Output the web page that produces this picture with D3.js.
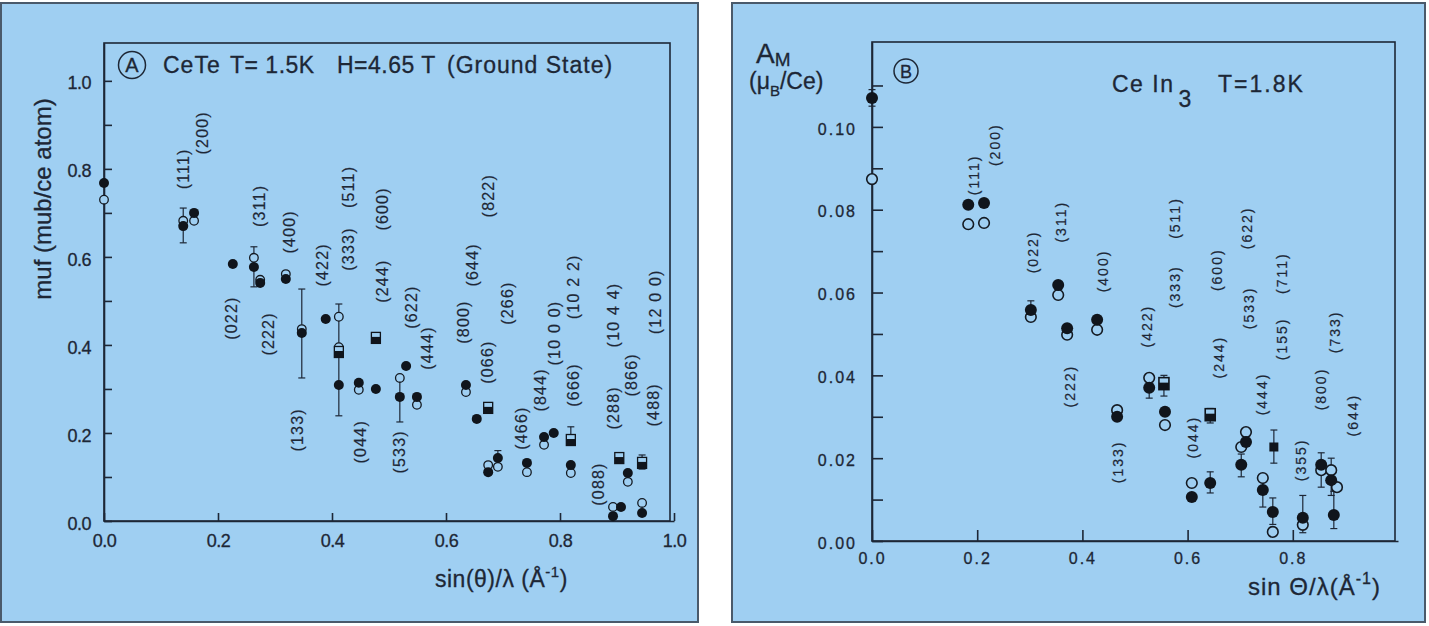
<!DOCTYPE html>
<html><head><meta charset="utf-8">
<script src="https://cdn.jsdelivr.net/npm/d3@7"></script>
<style>body{margin:0;background:#fff;} svg{display:block;font-family:"Liberation Sans",Arial,Helvetica,sans-serif;}</style>
</head><body><svg id="c" width="1429" height="626"></svg>
<script>
// ---------- Panel A : CeTe ----------
const aXTicks = [0, 0.2, 0.4, 0.6, 0.8, 1.0];
const aXTickLabels = ["0.0", "0.2", "0.4", "0.6", "0.8", "1.0"];
const aYTicks = [0, 0.2, 0.4, 0.6, 0.8, 1.0];
const aYTickLabels = ["0.0", "0.2", "0.4", "0.6", "0.8", "1.0"];
const aYMinor = [0.1, 0.3, 0.5, 0.7, 0.9];
const aFilled = [[0.000,0.768],[0.139,0.670],[0.158,0.700],[0.226,0.584],[0.263,0.577],[0.274,0.541],[0.319,0.550],[0.347,0.427],[0.389,0.459],[0.412,0.309],[0.447,0.314],[0.477,0.300],[0.519,0.282],[0.530,0.352],[0.549,0.282],[0.635,0.309],[0.654,0.232],[0.674,0.111],[0.691,0.143],[0.742,0.132],[0.772,0.191],[0.789,0.200],[0.819,0.127],[0.893,0.011],[0.907,0.032],[0.919,0.109],[0.944,0.018]];
const aOpen = [[0.000,0.730],[0.139,0.682],[0.158,0.682],[0.263,0.598],[0.274,0.548],[0.319,0.561],[0.347,0.436],[0.412,0.464],[0.412,0.395],[0.447,0.298],[0.519,0.325],[0.549,0.264],[0.635,0.293],[0.674,0.127],[0.691,0.123],[0.742,0.111],[0.772,0.173],[0.819,0.109],[0.893,0.032],[0.919,0.089],[0.944,0.041]];
const aSquare = [[0.412,0.384],[0.477,0.416],[0.674,0.257],[0.819,0.184],[0.904,0.143],[0.944,0.132]];
const aErr = [[0.139,0.632,0.711],[0.263,0.532,0.623],[0.347,0.325,0.527],[0.412,0.239,0.493],[0.519,0.225,0.330],[0.691,0.143,0.160],[0.819,0.184,0.214],[0.944,0.118,0.150]];
const aLabels = [["(111)",0.139,0.800],["(200)",0.172,0.882],["(311)",0.272,0.716],["(400)",0.326,0.657],["(022)",0.223,0.461],["(222)",0.288,0.425],["(422)",0.384,0.582],["(333)",0.428,0.618],["(511)",0.428,0.759],["(600)",0.489,0.709],["(244)",0.489,0.545],["(622)",0.540,0.486],["(133)",0.339,0.207],["(044)",0.449,0.180],["(533)",0.519,0.157],["(444)",0.568,0.393],["(800)",0.630,0.452],["(644)",0.647,0.582],["(822)",0.674,0.739],["(066)",0.672,0.361],["(266)",0.707,0.495],["(466)",0.733,0.211],["(844)",0.765,0.298],["(10 0 0)",0.791,0.427],["(666)",0.823,0.309],["(10 2 2)",0.823,0.532],["(088)",0.867,0.084],["(288)",0.893,0.257],["(866)",0.926,0.332],["(10 4 4)",0.893,0.468],["(488)",0.963,0.264],["(12 0 0)",0.967,0.498]];

// ---------- Panel B : CeIn3 ----------
const bXTicks = [0, 0.2, 0.4, 0.6, 0.8];
const bXTickLabels = ["0.0", "0.2", "0.4", "0.6", "0.8"];
const bYTicks = [0, 0.02, 0.04, 0.06, 0.08, 0.10];
const bYTickLabels = ["0.00", "0.02", "0.04", "0.06", "0.08", "0.10"];
const bYMinor = [0.01, 0.03, 0.05, 0.07, 0.09, 0.11];
const bFilled = [[0,0.107],[0.183,0.0812],[0.213,0.0816],[0.302,0.0558],[0.354,0.0618],[0.371,0.0514],[0.428,0.0534],[0.466,0.0300],[0.527,0.0370],[0.557,0.0312],[0.608,0.0106],[0.643,0.0140],[0.702,0.0184],[0.711,0.0239],[0.743,0.0123],[0.762,0.0070],[0.819,0.0056],[0.854,0.0184],[0.873,0.0147],[0.878,0.0063]];
const bOpen = [[0,0.0874],[0.183,0.0765],[0.213,0.0768],[0.302,0.0541],[0.354,0.0594],[0.371,0.0498],[0.428,0.0510],[0.466,0.0316],[0.527,0.0394],[0.557,0.0280],[0.608,0.0140],[0.702,0.0227],[0.711,0.0263],[0.743,0.0152],[0.762,0.0022],[0.819,0.0039],[0.854,0.0171],[0.873,0.0171],[0.884,0.0130]];
const bSquare = [[0.555,0.0380],[0.643,0.0305]];
const bSolidSquare = [[0.764,0.0227]];
const bErr = [[0,0.105,0.109],[0.302,0.054,0.058],[0.527,0.0345,0.040],[0.555,0.035,0.040],[0.643,0.0116,0.0167],[0.643,0.0285,0.032],[0.702,0.0155,0.021],[0.743,0.0082,0.0152],[0.764,0.0188,0.0268],[0.762,0.004,0.0104],[0.819,0.002,0.011],[0.854,0.013,0.0213],[0.873,0.011,0.020],[0.878,0.003,0.012]];
const bLabels = [["(111)",0.194,0.0884],["(200)",0.234,0.0957],["(022)",0.306,0.0698],["(311)",0.359,0.0771],["(400)",0.439,0.0652],["(222)",0.376,0.0374],["(422)",0.523,0.0519],["(333)",0.576,0.0614],["(511)",0.576,0.0780],["(133)",0.468,0.0191],["(244)",0.660,0.0444],["(600)",0.656,0.0655],["(044)",0.610,0.0251],["(533)",0.717,0.0563],["(622)",0.713,0.0756],["(444)",0.741,0.0355],["(155)",0.779,0.0488],["(711)",0.779,0.0647],["(355)",0.816,0.0196],["(800)",0.854,0.0367],["(733)",0.880,0.0505],["(644)",0.914,0.0304]];

const INK = "#1d2736", BG = "#9fcff2", FRAME = "#4a5a6b";
const svg = d3.select("#c");

// panel backgrounds
svg.append("rect").attr("x",1).attr("y",3).attr("width",697).attr("height",619).attr("fill",BG).attr("stroke",FRAME).attr("stroke-width",2);
svg.append("rect").attr("x",732).attr("y",3).attr("width",693).attr("height",619).attr("fill",BG).attr("stroke",FRAME).attr("stroke-width",2);

function panel(o) {
  const x = d3.scaleLinear().domain([0, 1]).range(o.xr);
  const y = d3.scaleLinear().domain(o.yd).range(o.yr);
  const g = svg.append("g");
  g.append("rect").attr("x", o.xr[0]).attr("y", o.yr[1]).attr("width", o.frameW).attr("height", o.yr[0]-o.yr[1])
    .attr("fill","none").attr("stroke",INK).attr("stroke-width",1.6);
  const ya = g.append("g").attr("transform",`translate(${o.xr[0]},0)`)
    .call(d3.axisLeft(y).tickValues(o.yTicks).tickFormat((d,i)=>o.yLabels[i]).tickSize(-o.tick).tickSizeOuter(0).tickPadding(o.yPad));
  const ym = g.append("g").attr("transform",`translate(${o.xr[0]},0)`)
    .call(d3.axisLeft(y).tickValues(o.yMinor).tickFormat("").tickSize(-o.tick).tickSizeOuter(0));
  ym.select(".domain").remove();
  const xa = g.append("g").attr("transform",`translate(0,${o.yr[0]})`)
    .call(d3.axisBottom(x).tickValues(o.xTicks).tickFormat((d,i)=>o.xLabels[i]).tickSize(-o.tick).tickSizeOuter(0).tickPadding(o.xPad));
  [ya, ym, xa].forEach(a => {
    a.selectAll("line,path").attr("stroke",INK).attr("stroke-width",1.6);
    a.selectAll("text").attr("fill",INK).attr("stroke",INK).attr("stroke-width",0.3)
      .attr("font-size",o.tickFont).attr("font-family","Liberation Sans, Arial, sans-serif").attr("letter-spacing",o.tickLS);
  });
  ya.selectAll("text").attr("dy","0.45em");
  const eb = g.append("g").attr("stroke",INK).attr("stroke-width",1.2);
  o.err.forEach(e => {
    eb.append("line").attr("x1",x(e[0])).attr("x2",x(e[0])).attr("y1",y(e[1])).attr("y2",y(e[2]));
    [e[1],e[2]].forEach(v => eb.append("line").attr("x1",x(e[0])-3.5).attr("x2",x(e[0])+3.5).attr("y1",y(v)).attr("y2",y(v)));
  });
  g.append("g").selectAll("circle").data(o.open).join("circle")
    .attr("cx",d=>x(d[0])).attr("cy",d=>y(d[1])).attr("r",o.rOpen)
    .attr("fill",BG).attr("stroke","#141a22").attr("stroke-width",o.sw);
  g.append("g").selectAll("circle").data(o.filled).join("circle")
    .attr("cx",d=>x(d[0])).attr("cy",d=>y(d[1])).attr("r",o.rFill).attr("fill","#10151c");
  const sq = g.append("g").selectAll("g").data(o.square).join("g")
    .attr("transform",d=>`translate(${x(d[0])},${y(d[1])})`);
  sq.append("rect").attr("x",-o.sq/2).attr("y",-o.sq/2-1).attr("width",o.sq).attr("height",o.sq+2).attr("fill",BG).attr("stroke","#10151c").attr("stroke-width",o.sw);
  sq.append("rect").attr("x",-o.sq/2).attr("y",-1).attr("width",o.sq).attr("height",o.sq/2+2).attr("fill","#10151c");
  if (o.solid) g.append("g").selectAll("rect").data(o.solid).join("rect")
    .attr("x",d=>x(d[0])-4.5).attr("y",d=>y(d[1])-4.5).attr("width",9).attr("height",9).attr("fill","#10151c");
  g.append("g").selectAll("text").data(o.labels).join("text")
    .attr("transform",d=>`translate(${x(d[1])},${y(d[2])}) rotate(-90)`)
    .attr("text-anchor","middle").attr("dy","0.35em")
    .attr("font-size",o.labFont).attr("letter-spacing",o.labLS).attr("fill",INK)
    .attr("stroke",INK).attr("stroke-width",0.2)
    .style("white-space","pre")
    .text(d=>d[0]);
  return {x, y, g};
}

panel({xr:[104,674], yr:[521,43], yd:[0,1.086], frameW:566, tick:8, yPad:13, xPad:13,
  xTicks:aXTicks, xLabels:aXTickLabels, yTicks:aYTicks, yLabels:aYTickLabels, yMinor:aYMinor,
  tickFont:"18px", tickLS:"-0.5px", err:aErr, open:aOpen, filled:aFilled, square:aSquare,
  rOpen:4.3, rFill:5, sw:1.3, sq:9, labels:aLabels, labFont:"16px", labLS:"1.2px"});

panel({xr:[872,1398], yr:[541,42], yd:[0,0.1205], frameW:523, tick:11, yPad:15, xPad:12,
  xTicks:bXTicks, xLabels:bXTickLabels, yTicks:bYTicks, yLabels:bYTickLabels, yMinor:bYMinor,
  tickFont:"16px", tickLS:"2px", err:bErr, open:bOpen, filled:bFilled, square:bSquare, solid:bSolidSquare,
  rOpen:5.3, rFill:6, sw:1.6, sq:10, labels:bLabels, labFont:"14px", labLS:"2px"});

// ---------- Panel A texts ----------
const t = svg.append("g").attr("fill",INK).attr("stroke",INK).attr("stroke-width",0.3);
t.append("circle").attr("cx",132).attr("cy",65).attr("r",13.5).attr("fill","none").attr("stroke-width",1.5);
t.append("text").attr("x",132).attr("y",72).attr("text-anchor","middle").attr("font-size","20px").text("A");
t.append("text").attr("x",163).attr("y",73).attr("font-size","23px").attr("letter-spacing","1px").text("CeTe");
t.append("text").attr("x",230).attr("y",73).attr("font-size","23px").attr("letter-spacing","0.5px").text("T= 1.5K");
t.append("text").attr("x",337).attr("y",73).attr("font-size","23px").attr("letter-spacing","0.5px").text("H=4.65 T");
t.append("text").attr("x",447).attr("y",73).attr("font-size","23px").attr("letter-spacing","1px").text("(Ground State)");
t.append("text").attr("transform","translate(51,199) rotate(-90)").attr("text-anchor","middle").attr("font-size","24px").text("muf (mub/ce atom)");
const xa = t.append("text").attr("x",435).attr("y",587).attr("font-size","23px").attr("letter-spacing","0.5px");
xa.append("tspan").text("sin(θ)/λ (Å");
xa.append("tspan").attr("font-size","15px").attr("dy","-10").text("-1");
xa.append("tspan").attr("dy","10").text(")");

// ---------- Panel B texts ----------
t.append("circle").attr("cx",906).attr("cy",71).attr("r",12).attr("fill","none").attr("stroke-width",1.5);
t.append("text").attr("x",906).attr("y",77.5).attr("text-anchor","middle").attr("font-size","18px").text("B");
const am = t.append("text").attr("x",756).attr("y",63).attr("font-size","28px");
am.append("tspan").text("A");
am.append("tspan").attr("font-size","19px").attr("dy","3").text("M");
const mu = t.append("text").attr("x",749).attr("y",89).attr("font-size","23px");
mu.append("tspan").text("(μ");
mu.append("tspan").attr("font-size","15px").attr("dy","7").text("B");
mu.append("tspan").attr("dy","-7").text("/Ce)");
const ce = t.append("text").attr("x",1112).attr("y",92).attr("font-size","23px").attr("letter-spacing","1.5px");
ce.append("tspan").text("Ce In");
ce.append("tspan").attr("dy","15").attr("dx","4").text("3");
t.append("text").attr("x",1218).attr("y",92).attr("font-size","23px").attr("letter-spacing","2px").text("T=1.8K");
const xb = t.append("text").attr("x",1248).attr("y",595).attr("font-size","24px").attr("letter-spacing","1px");
xb.append("tspan").text("sin Θ/λ(Å");
xb.append("tspan").attr("font-size","16px").attr("dy","-11").text("-1");
xb.append("tspan").attr("dy","11").text(")");
</script></body></html>
